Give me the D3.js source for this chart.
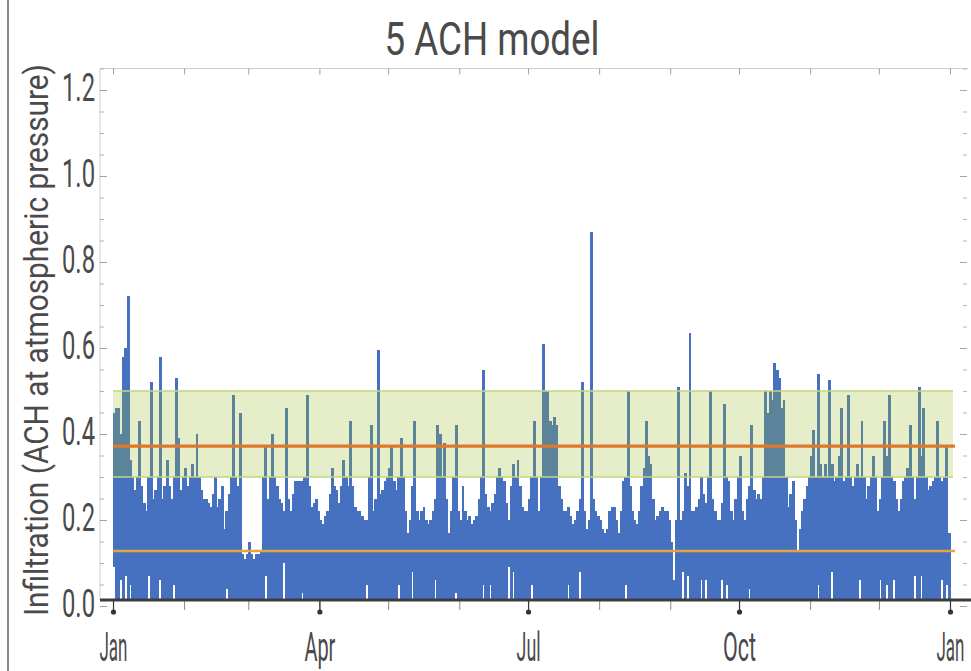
<!DOCTYPE html>
<html>
<head>
<meta charset="utf-8">
<script src="https://cdn.jsdelivr.net/npm/d3@7"></script>
<style>
  body { margin: 0; background: #fff; }
  text { font-family: Roboto, "DejaVu Sans", sans-serif; fill: #4a4a4a; }
</style>
</head>
<body>
<div id="chart"></div>
<script>
var width = 971;
var height = 671;

// daily peak infiltration, Jan 1 .. Dec 31
var dailyHigh = [
  // Jan
  0.45,0.46,0.46,0.40,0.58,0.60,0.72,0.34,0.30,0.27,0.30,0.43,0.28,0.24,0.22,0.30,0.52,0.25,0.27,0.30,0.58,0.25,0.28,0.34,0.28,0.25,0.30,0.53,0.39,0.27,0.30,
  // Feb
  0.32,0.28,0.30,0.33,0.30,0.40,0.30,0.27,0.25,0.25,0.24,0.23,0.26,0.30,0.23,0.25,0.28,0.18,0.22,0.26,0.30,0.49,0.30,0.28,0.45,0.12,0.11,0.12,
  // Mar
  0.15,0.12,0.11,0.12,0.12,0.13,0.30,0.37,0.25,0.30,0.40,0.30,0.28,0.25,0.24,0.22,0.46,0.25,0.22,0.26,0.29,0.29,0.29,0.29,0.30,0.49,0.28,0.23,0.24,0.25,0.22,
  // Apr
  0.20,0.19,0.21,0.22,0.26,0.32,0.28,0.27,0.24,0.28,0.34,0.30,0.28,0.43,0.28,0.23,0.22,0.22,0.21,0.20,0.20,0.30,0.42,0.22,0.25,0.595,0.26,0.27,0.29,0.30,
  // May
  0.32,0.37,0.29,0.27,0.30,0.39,0.30,0.22,0.17,0.20,0.28,0.43,0.22,0.20,0.22,0.23,0.20,0.19,0.20,0.22,0.25,0.42,0.40,0.30,0.38,0.25,0.17,0.22,0.30,0.42,0.22,
  // Jun
  0.20,0.28,0.22,0.20,0.21,0.19,0.20,0.21,0.25,0.30,0.55,0.26,0.23,0.22,0.24,0.26,0.30,0.32,0.30,0.29,0.24,0.20,0.28,0.33,0.30,0.34,0.28,0.23,0.22,0.22,
  // Jul
  0.25,0.30,0.43,0.30,0.22,0.30,0.61,0.50,0.50,0.43,0.42,0.44,0.42,0.28,0.25,0.22,0.22,0.23,0.21,0.19,0.20,0.22,0.25,0.52,0.22,0.18,0.20,0.87,0.25,0.22,0.21,
  // Aug
  0.20,0.18,0.17,0.18,0.22,0.23,0.23,0.20,0.17,0.22,0.29,0.30,0.50,0.28,0.22,0.20,0.19,0.22,0.28,0.32,0.43,0.35,0.33,0.25,0.20,0.21,0.22,0.23,0.22,0.22,0.20,
  // Sep
  0.15,0.06,0.20,0.51,0.20,0.22,0.31,0.28,0.635,0.22,0.22,0.23,0.25,0.30,0.26,0.24,0.30,0.50,0.25,0.22,0.20,0.20,0.24,0.47,0.30,0.29,0.22,0.20,0.25,0.30,
  // Oct
  0.35,0.22,0.20,0.25,0.28,0.42,0.27,0.25,0.26,0.25,0.30,0.50,0.45,0.50,0.48,0.565,0.55,0.53,0.46,0.48,0.30,0.23,0.26,0.29,0.20,0.13,0.18,0.22,0.25,0.28,0.30,
  // Nov
  0.35,0.41,0.30,0.54,0.33,0.30,0.33,0.30,0.525,0.33,0.29,0.30,0.35,0.46,0.29,0.30,0.49,0.30,0.28,0.30,0.33,0.30,0.43,0.30,0.25,0.28,0.30,0.35,0.30,0.22,
  // Dec
  0.25,0.30,0.43,0.35,0.49,0.30,0.29,0.25,0.22,0.25,0.29,0.30,0.32,0.42,0.30,0.25,0.30,0.51,0.35,0.46,0.30,0.27,0.28,0.29,0.30,0.43,0.30,0.29,0.30,0.37,0.17
];

// days where the daily minimum stays clear of zero (white gaps at the bottom)
var lowDays   = [0, 3, 5, 7, 15, 20, 26, 49, 66, 74, 82, 110, 124, 130, 140, 149, 161, 164, 172, 174, 182, 198, 203, 223, 248, 250, 256, 258, 265, 267, 277, 307, 313, 325, 334, 337, 340, 349, 352, 361, 363];
var lowValues = [0.09, 0.06, 0.07, 0.05, 0.07, 0.06, 0.05, 0.04, 0.07, 0.10, 0.03, 0.05, 0.05, 0.08, 0.06, 0.03, 0.05, 0.05, 0.09, 0.08, 0.05, 0.05, 0.08, 0.05, 0.08, 0.07, 0.06, 0.06, 0.06, 0.05, 0.04, 0.05, 0.08, 0.06, 0.06, 0.05, 0.06, 0.07, 0.07, 0.06, 0.05];

var bandRange = [0.3, 0.5];
var refLines = [0.372, 0.128];
var yTickValues = [0, 0.2, 0.4, 0.6, 0.8, 1.0, 1.2];
var monthLabels = ["Jan", "Apr", "Jul", "Oct", "Jan"];

var start = new Date(2015, 0, 1);
var end = new Date(2016, 0, 1);

// note: "top" is taken by window.top, so keep plot edges in their own names
var plotLeft = 100, plotRight = 968, plotTop = 68.5, plotBottom = 600;

var x = d3.scaleTime().domain([start, end]).range([113, 950]);
var y = d3.scaleLinear().domain([0, 1.25]).range([606, plotTop]);

var lowMap = {};
lowDays.forEach(function(d, i) { lowMap[d] = lowValues[i]; });

var data = dailyHigh.map(function(v, i) {
  return {
    date: d3.timeDay.offset(start, i),
    next: d3.timeDay.offset(start, i + 1),
    high: v,
    low: lowMap[i] || 0
  };
});

var svg = d3.select("#chart").append("svg")
  .attr("width", width)
  .attr("height", height);

// figure border on the left
svg.append("line")
  .attr("x1", 8).attr("x2", 8).attr("y1", 0).attr("y2", height)
  .attr("stroke", "#888").attr("stroke-width", 2);

svg.append("clipPath").attr("id", "plot-clip")
  .append("rect")
  .attr("x", plotLeft).attr("y", plotTop)
  .attr("width", plotRight - plotLeft).attr("height", plotBottom - plotTop);

var plot = svg.append("g").attr("clip-path", "url(#plot-clip)");

plot.selectAll(".day")
  .data(data)
  .enter()
  .append("rect")
  .attr("class", "day")
  .attr("x", function(d) { return x(d.date); })
  .attr("width", function(d) { return x(d.next) - x(d.date) + 0.6; })
  .attr("y", function(d) { return y(d.high); })
  .attr("height", function(d) { return y(d.low) - y(d.high); })
  .attr("fill", "#4670c0")
  .attr("shape-rendering", "crispEdges");

// comfort band drawn over the series
plot.append("rect")
  .attr("x", x(start))
  .attr("width", x(end) - x(start) + 3)
  .attr("y", y(bandRange[1]))
  .attr("height", y(bandRange[0]) - y(bandRange[1]))
  .attr("fill", "#9bbd2e")
  .attr("fill-opacity", 0.26);

plot.selectAll(".band-edge")
  .data(bandRange)
  .enter()
  .append("line")
  .attr("class", "band-edge")
  .attr("x1", x(start)).attr("x2", x(end) + 3)
  .attr("y1", function(d) { return y(d); })
  .attr("y2", function(d) { return y(d); })
  .attr("stroke", "#c3d67f").attr("stroke-width", 1.5);

plot.selectAll(".ref")
  .data(refLines)
  .enter()
  .append("line")
  .attr("class", "ref")
  .attr("x1", x(start)).attr("x2", x(end) + 5)
  .attr("y1", function(d) { return y(d); })
  .attr("y2", function(d) { return y(d); })
  .attr("stroke", function(d, i) { return i === 0 ? "#e0782c" : "#e4a43c"; })
  .attr("stroke-width", function(d, i) { return i === 0 ? 3.2 : 2.6; });

// frame: light top / left lines, inward ticks
svg.append("line")
  .attr("x1", plotLeft).attr("x2", plotRight).attr("y1", plotTop).attr("y2", plotTop)
  .attr("stroke", "#cfcfcf");
svg.append("line")
  .attr("x1", plotLeft).attr("x2", plotLeft).attr("y1", plotTop).attr("y2", plotBottom)
  .attr("stroke", "#cfcfcf");

var minorY = d3.range(0, 1.2501, 0.05);

function styleTicks(g, color) {
  g.select(".domain").remove();
  g.selectAll("line").attr("stroke", color);
  g.selectAll("text").remove();
}

svg.append("g").attr("transform", "translate(" + plotLeft + ",0)")
  .call(d3.axisRight(y).tickValues(minorY).tickSize(4))
  .call(styleTicks, "#b0b0b0");
svg.append("g").attr("transform", "translate(" + plotLeft + ",0)")
  .call(d3.axisRight(y).tickValues(yTickValues).tickSize(7))
  .call(styleTicks, "#a0a0a0");
svg.append("g").attr("transform", "translate(" + (plotRight - 1) + ",0)")
  .call(d3.axisLeft(y).tickValues(minorY).tickSize(4))
  .call(styleTicks, "#b8b8b8");
svg.append("g").attr("transform", "translate(" + (plotRight - 1) + ",0)")
  .call(d3.axisLeft(y).tickValues(yTickValues).tickSize(7))
  .call(styleTicks, "#a8a8a8");
svg.append("g").attr("transform", "translate(0," + plotTop + ")")
  .call(d3.axisBottom(x).ticks(d3.timeMonth.every(1)).tickSize(6))
  .call(styleTicks, "#a0a0a0");

// y labels
var yLabels = svg.append("g").attr("transform", "translate(" + plotLeft + ",0)")
  .call(d3.axisLeft(y).tickValues(yTickValues).tickSize(0).tickPadding(5)
    .tickFormat(d3.format(".1f")));
yLabels.select(".domain").remove();
yLabels.selectAll("text")
  .attr("font-size", 38)
  .attr("dy", "0.28em")
  .attr("fill", "#4a4a4a")
  .attr("textLength", 33)
  .attr("lengthAdjust", "spacingAndGlyphs");

// bottom axis: minor monthly ticks, major quarter ticks with dots
svg.append("g").attr("transform", "translate(0," + plotBottom + ")")
  .call(d3.axisBottom(x).ticks(d3.timeMonth.every(1)).tickSize(10))
  .call(styleTicks, "#8a8a8a");

var quarterDates = monthLabels.map(function(m, i) { return d3.timeMonth.offset(start, i * 3); });
var labelWidths = [28, 31, 24, 33, 28];

var xMajor = svg.append("g").attr("transform", "translate(0," + plotBottom + ")")
  .call(d3.axisBottom(x).tickValues(quarterDates).tickSize(12).tickPadding(21)
    .tickFormat(function(d, i) { return monthLabels[i]; }));
xMajor.select(".domain").remove();
xMajor.selectAll("line").attr("stroke", "#333").attr("stroke-width", 1.2);
xMajor.selectAll(".tick").append("circle")
  .attr("cy", 12).attr("r", 2.6).attr("fill", "#333");
xMajor.selectAll("text")
  .attr("font-size", 40)
  .attr("fill", "#4a4a4a")
  .attr("textLength", function(d, i) { return labelWidths[i]; })
  .attr("lengthAdjust", "spacingAndGlyphs");

// thick bottom frame line
svg.append("line")
  .attr("x1", plotLeft).attr("x2", width).attr("y1", plotBottom).attr("y2", plotBottom)
  .attr("stroke", "#3c3c3c").attr("stroke-width", 3);

// titles
svg.append("text")
  .attr("x", 492).attr("y", 55)
  .attr("text-anchor", "middle")
  .attr("font-size", 46)
  .attr("textLength", 215)
  .attr("lengthAdjust", "spacingAndGlyphs")
  .text("5 ACH model");

svg.append("text")
  .attr("transform", "translate(48,340) rotate(-90)")
  .attr("text-anchor", "middle")
  .attr("font-size", 34)
  .attr("textLength", 552)
  .attr("lengthAdjust", "spacingAndGlyphs")
  .text("Infiltration (ACH at atmospheric pressure)");
</script>
</body>
</html>
